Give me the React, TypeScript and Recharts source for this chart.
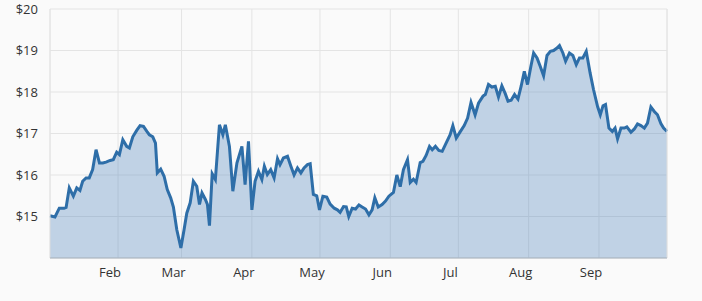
import { AreaChart, Area, XAxis, YAxis, CartesianGrid, ReferenceLine } from "recharts";

// day of year (1 = Jan 1) for each point
const days = [
  1.0, 3.2, 5.1, 7.2, 8.1, 9.5, 11.3, 12.8, 14.2, 15.4, 16.9, 18.3, 19.8, 21.3, 22.8, 24.3, 25.7, 27.5,
  28.9, 30.4, 31.6, 33.1, 34.8, 36.0, 37.5, 39.3, 40.7, 42.2, 43.7, 44.8, 46.3, 47.5, 48.3, 49.8, 51.3,
  52.7, 54.2, 55.4, 56.9, 58.7, 60.1, 61.3, 62.8, 64.2, 65.7, 66.9, 68.0, 69.5, 70.4, 71.3, 72.5, 73.9,
  75.7, 77.2, 78.3, 80.1, 81.6, 83.4, 85.6, 87.0, 88.5, 90.0, 91.4, 92.9, 94.4, 95.5, 96.8, 98.3, 99.8,
  101.3, 102.4, 103.9, 105.7, 107.2, 108.6, 110.1, 111.6, 113.0, 114.5, 115.7, 117.1, 118.6, 119.8,
  121.3, 123.0, 124.5, 126.3, 127.7, 128.9, 130.4, 131.6, 132.7, 134.2, 135.7, 137.2, 138.6, 140.1,
  141.6, 143.0, 144.2, 145.7, 147.4, 148.9, 150.4, 152.4, 153.9, 155.4, 156.8, 158.6, 159.8, 161.2,
  162.4, 164.2, 165.4, 166.8, 168.3, 169.5, 170.9, 172.4, 173.9, 175.3, 177.4, 178.6, 180.1, 181.8,
  183.6, 185.1, 186.6, 188.4, 189.9, 191.9, 192.9, 194.3, 195.8, 197.3, 198.7, 200.2, 201.7, 202.9,
  204.3, 205.8, 207.3, 208.7, 210.1, 211.5, 213.0, 214.2, 215.7, 217.1, 218.6, 220.1, 221.6, 223.0,
  224.5, 225.6, 227.1, 228.3, 230.0, 231.5, 233.0, 234.4, 235.9, 237.4, 239.1, 240.6, 242.4, 243.6,
  244.8, 245.9, 247.4, 248.9, 250.1, 251.2, 252.7, 254.2, 255.3, 257.1, 258.6, 260.0, 261.5, 263.0,
  264.4, 265.9, 267.4, 268.8, 270.3, 271.5, 273.0,
];

const prices = [
  15.02, 14.99, 15.2, 15.2, 15.22, 15.69, 15.49, 15.69, 15.63, 15.85, 15.93, 15.93, 16.13, 16.61, 16.29,
  16.29, 16.31, 16.35, 16.37, 16.55, 16.49, 16.85, 16.69, 16.65, 16.92, 17.08, 17.19, 17.17, 17.05,
  16.97, 16.92, 16.77, 16.05, 16.14, 15.97, 15.65, 15.45, 15.23, 14.68, 14.24, 14.68, 15.08, 15.33,
  15.85, 15.73, 15.29, 15.57, 15.41, 15.29, 14.78, 16.03, 15.89, 17.21, 16.97, 17.21, 16.69, 15.61,
  16.29, 16.69, 15.77, 16.81, 15.16, 15.85, 16.09, 15.89, 16.21, 16.01, 16.13, 15.93, 16.39, 16.25,
  16.41, 16.45, 16.21, 16.0, 16.17, 16.05, 16.17, 16.25, 16.27, 15.53, 15.5, 15.16, 15.49, 15.47, 15.3,
  15.2, 15.16, 15.1, 15.24, 15.23, 15.0, 15.2, 15.18, 15.28, 15.23, 15.18, 15.04, 15.16, 15.45, 15.23,
  15.29, 15.37, 15.49, 15.58, 16.0, 15.72, 16.13, 16.37, 15.82, 15.9, 15.82, 16.3, 16.33, 16.47, 16.69,
  16.61, 16.69, 16.59, 16.57, 16.73, 16.97, 17.19, 16.89, 17.04, 17.19, 17.37, 17.75, 17.45, 17.73,
  17.9, 17.94, 18.18, 18.12, 18.14, 17.88, 18.15, 17.96, 17.78, 17.8, 17.94, 17.83, 18.14, 18.5, 18.18,
  18.62, 18.94, 18.82, 18.62, 18.39, 18.88, 18.98, 19.0, 19.06, 19.12, 18.94, 18.74, 18.94, 18.88,
  18.66, 18.82, 18.82, 18.98, 18.46, 18.06, 17.65, 17.45, 17.67, 17.7, 17.13, 17.05, 17.13, 16.87,
  17.13, 17.13, 17.16, 17.03, 17.11, 17.23, 17.19, 17.13, 17.25, 17.64, 17.53, 17.45, 17.24, 17.13,
  17.05,
];

const monthTicks = [31, 59, 90, 120, 151, 181, 212, 243];
const monthLabels = ["Feb", "Mar", "Apr", "May", "Jun", "Jul", "Aug", "Sep"];
const priceTicks = [15, 16, 17, 18, 19, 20];

const data = days.map((d, i) => ({ day: d, price: prices[i] }));

const FONT = "'Open Sans', sans-serif";
const GRID = "#e4e4e4";

function MonthTick({ x, y, payload }: any) {
  const i = monthTicks.indexOf(payload.value);
  return (
    <text x={x - 8} y={y + 11} textAnchor="middle" fontFamily={FONT} fontSize={13} fill="#333">
      {monthLabels[i]}
    </text>
  );
}

export default function App() {
  return (
    <div style={{ position: "absolute", left: 0, top: 0, width: 702, height: 301, background: "#fafafa" }}>
      <AreaChart width={702} height={301} data={data} margin={{ top: 9, right: 35, left: 0, bottom: 0 }}>
        <CartesianGrid stroke={GRID} />
        <XAxis
          dataKey="day"
          type="number"
          domain={[1, 273]}
          ticks={monthTicks}
          tick={<MonthTick />}
          tickLine={false}
          axisLine={{ stroke: "#aab4be" }}
          height={43}
        />
        <YAxis
          type="number"
          domain={[14, 20]}
          ticks={priceTicks}
          tickFormatter={(v: number) => `$${v}`}
          tickLine={false}
          axisLine={false}
          tickMargin={6}
          width={50}
          tick={{ fontFamily: FONT, fontSize: 13, fill: "#333" }}
        />
        <ReferenceLine x={1} stroke={GRID} />
        <ReferenceLine x={273} stroke={GRID} />
        <Area
          type="linear"
          dataKey="price"
          stroke="#2e6ea8"
          strokeWidth={3}
          fill="#3a78b5"
          fillOpacity={0.3}
          isAnimationActive={false}
          dot={false}
          activeDot={false}
        />
      </AreaChart>
    </div>
  );
}
